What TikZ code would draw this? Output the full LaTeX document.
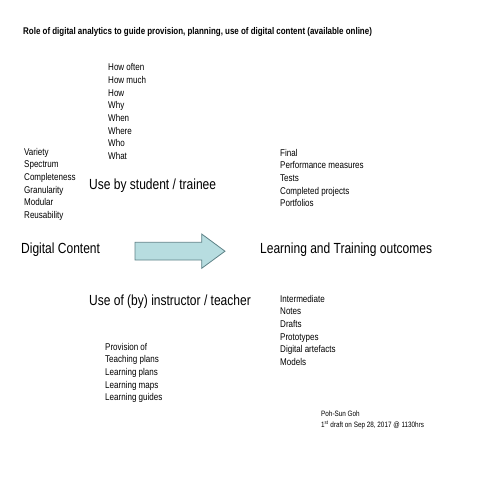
\documentclass[tikz,border=0pt]{standalone}
\usepackage{fontspec}
\setmainfont{Liberation Sans}
\newfontfamily\narrowfont[FakeStretch=0.82]{Liberation Sans}
\definecolor{arrowfill}{HTML}{B7DDE0}
\definecolor{arrowline}{HTML}{5E8287}
\tikzset{
  listtext/.style={anchor=north west, inner sep=0pt, align=left,
    font=\narrowfont\fontsize{9.8}{12.65}\selectfont},
  bigtext/.style={anchor=west, inner sep=0pt,
    font=\narrowfont\fontsize{14.65}{18}\selectfont},
  smalltext/.style={anchor=north west, inner sep=0pt, align=left,
    font=\narrowfont\fontsize{7.75}{11}\selectfont},
}
\begin{document}
\begin{tikzpicture}[x=1pt,y=-1pt]
\useasboundingbox (0,0) rectangle (480,480);

\node[anchor=west, inner sep=0pt, font=\narrowfont\bfseries\fontsize{9.7}{11}\selectfont] (title) at (23,32)
  {Role of digital analytics to guide provision, planning, use of digital content (available online)};

\node[listtext] (questions) at (108,63.5)
  {How often\\How much\\How\\Why\\When\\Where\\Who\\What};
\node[listtext] (qualities) at (24,148)
  {Variety\\Spectrum\\Completeness\\Granularity\\Modular\\Reusability};
\node[listtext] (final) at (280,149)
  {Final\\Performance measures\\Tests\\Completed projects\\Portfolios};

\node[bigtext] (student) at (89,186) {Use by student / trainee};
\node[bigtext] (content) at (21,250) {Digital Content};
\node[bigtext] (outcomes) at (260,250) {Learning and Training outcomes};
\node[bigtext] (teacher) at (89,302) {Use of (by) instructor / teacher};

\node[listtext] (intermediate) at (280,294.8)
  {Intermediate\\Notes\\Drafts\\Prototypes\\Digital artefacts\\Models};
\node[listtext] (provision) at (105,343)
  {Provision of\\Teaching plans\\Learning plans\\Learning maps\\Learning guides};

% block arrow
\draw[fill=arrowfill, draw=arrowline, line width=0.8pt]
  (135,242.3) -- (201.7,242.3) -- (201.7,234) -- (225,251.2)
  -- (201.7,268.3) -- (201.7,260) -- (135,260) -- cycle;

\node[smalltext] (author) at (321,410.5)
  {Poh-Sun Goh\\1\textsuperscript{st} draft on Sep 28, 2017 @ 1130hrs};

\end{tikzpicture}
\end{document}
